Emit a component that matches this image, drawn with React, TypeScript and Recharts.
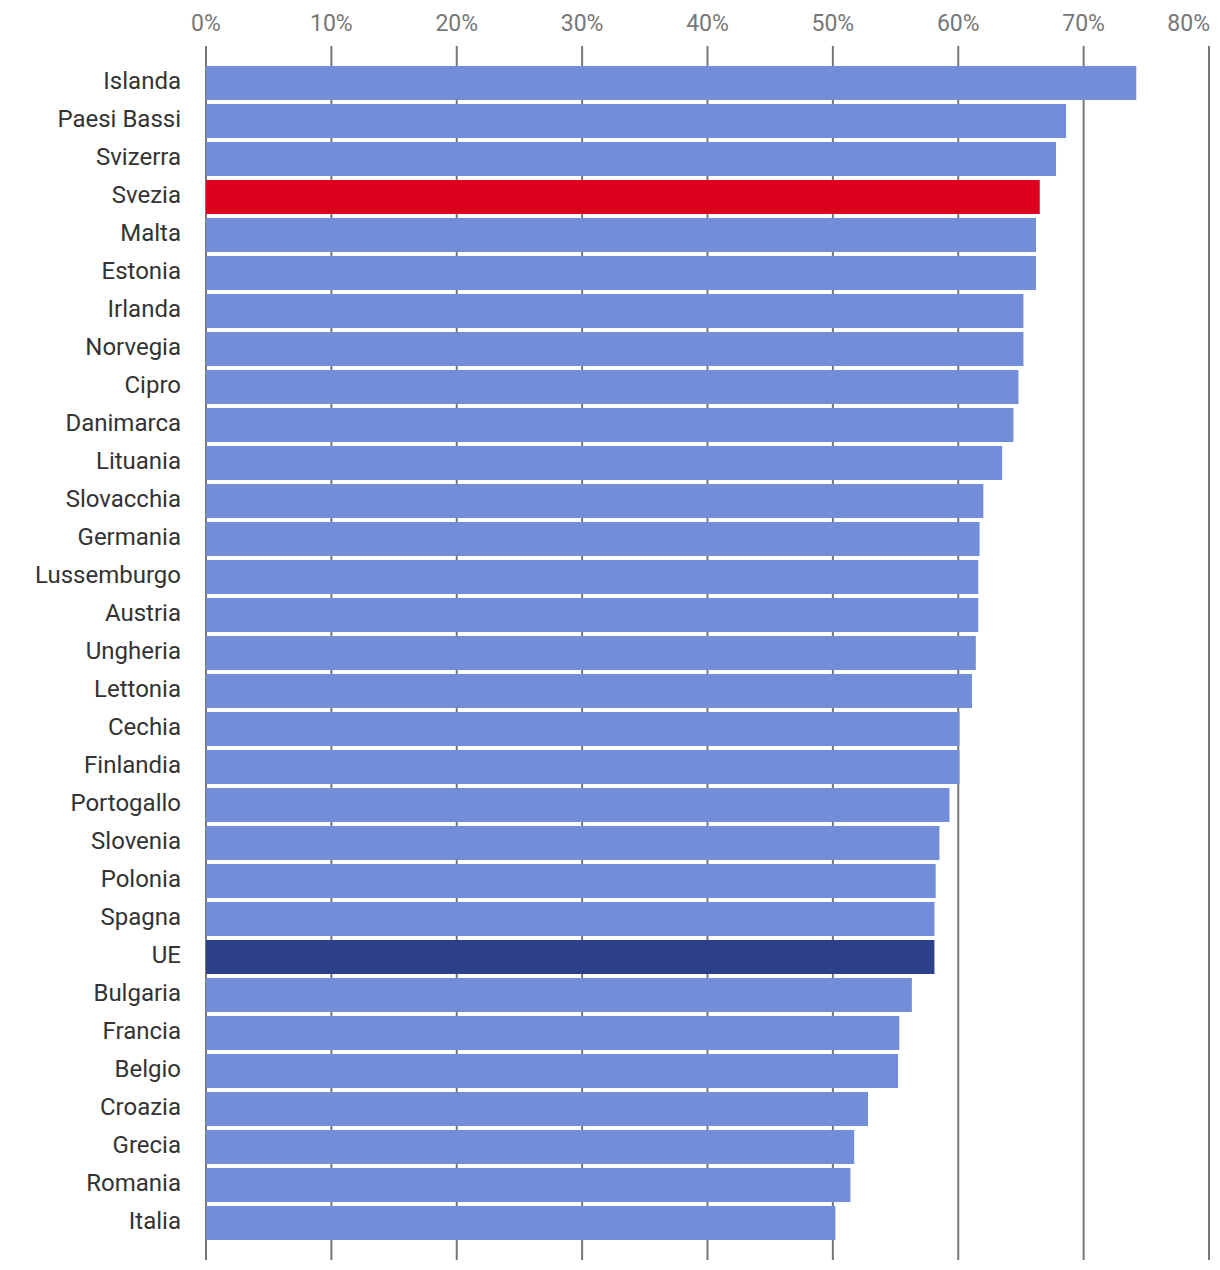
import { Bar, BarChart, CartesianGrid, Cell, XAxis, YAxis } from "recharts";

const countries = [
  "Islanda",
  "Paesi Bassi",
  "Svizerra",
  "Svezia",
  "Malta",
  "Estonia",
  "Irlanda",
  "Norvegia",
  "Cipro",
  "Danimarca",
  "Lituania",
  "Slovacchia",
  "Germania",
  "Lussemburgo",
  "Austria",
  "Ungheria",
  "Lettonia",
  "Cechia",
  "Finlandia",
  "Portogallo",
  "Slovenia",
  "Polonia",
  "Spagna",
  "UE",
  "Bulgaria",
  "Francia",
  "Belgio",
  "Croazia",
  "Grecia",
  "Romania",
  "Italia",
];

// share, in percent
const shares = [
  74.2, 68.6, 67.8, 66.5, 66.2, 66.2, 65.2, 65.2, 64.8, 64.4, 63.5, 62.0,
  61.7, 61.6, 61.6, 61.4, 61.1, 60.1, 60.1, 59.3, 58.5, 58.2, 58.1, 58.1,
  56.3, 55.3, 55.2, 52.8, 51.7, 51.4, 50.2,
];

const xTicks = [0, 10, 20, 30, 40, 50, 60, 70, 80];

const BLUE = "#738ed8";
const RED = "#dc001e";
const DARK = "#2b3f8a";

const highlight: Record<string, string> = {
  Svezia: RED,
  UE: DARK,
};

const data = countries.map((name, i) => ({ name, value: shares[i] }));

// last tick label sits right-aligned on its gridline so it stays inside
function PercentTick(props: any) {
  const { x, y, payload } = props;
  const last = payload.value === xTicks[xTicks.length - 1];
  return (
    <text
      x={last ? x + 1 : x}
      y={y}
      textAnchor={last ? "end" : "middle"}
      fontSize={23}
      fill="#777777"
    >
      {`${payload.value}%`}
    </text>
  );
}

function CountryTick(props: any) {
  const { x, y, payload } = props;
  return (
    <text x={x} y={y + 6} textAnchor="end" fontSize={24} fill="#333333">
      {payload.value}
    </text>
  );
}

export default function App() {
  return (
    <div style={{ fontFamily: "Roboto, sans-serif" }}>
      <BarChart
        width={1212}
        height={1262}
        data={data}
        layout="vertical"
        margin={{ top: 8, right: 11, bottom: 10, left: 0 }}
        barSize={34}
      >
        <CartesianGrid
          horizontal={false}
          vertical={true}
          stroke="#777777"
          strokeWidth={2}
        />
        <XAxis
          type="number"
          orientation="top"
          domain={[0, 80]}
          ticks={xTicks}
          height={30}
          axisLine={false}
          tickLine={false}
          tickSize={0}
          tickMargin={15}
          tick={<PercentTick />}
          interval={0}
        />
        <YAxis
          type="category"
          dataKey="name"
          width={198}
          axisLine={false}
          tickLine={false}
          tickSize={0}
          tickMargin={25}
          interval={0}
          padding={{ top: 18, bottom: 18 }}
          tick={<CountryTick />}
        />
        <Bar dataKey="value" isAnimationActive={false}>
          {data.map((d) => (
            <Cell key={d.name} fill={highlight[d.name] ?? BLUE} />
          ))}
        </Bar>
      </BarChart>
    </div>
  );
}
